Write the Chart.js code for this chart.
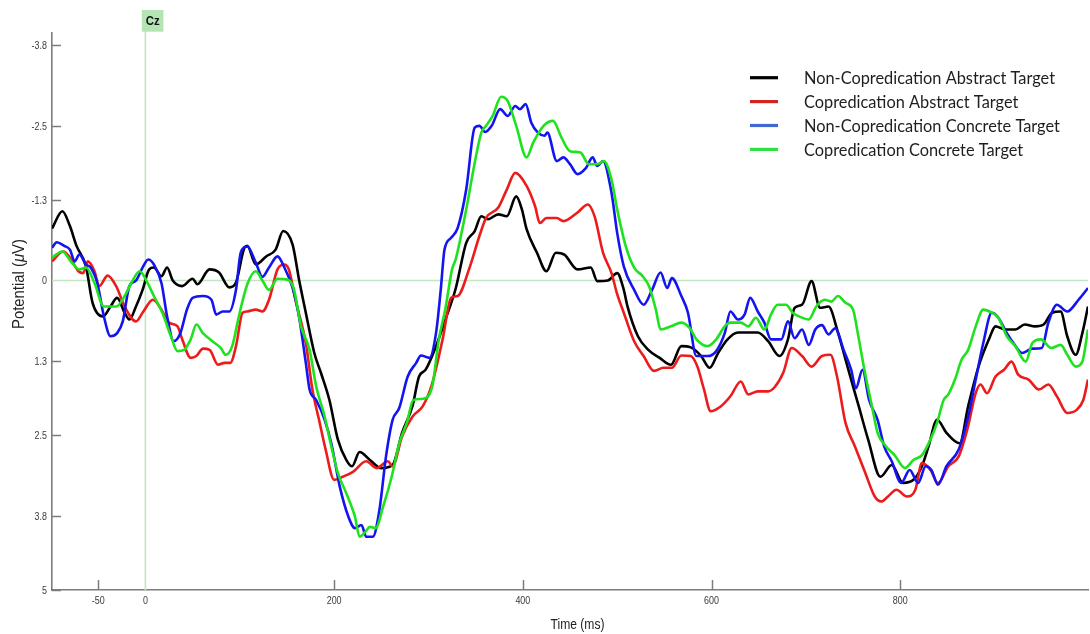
<!DOCTYPE html>
<html><head><meta charset="utf-8">
<script src="https://cdn.jsdelivr.net/npm/chart.js@4.4.1/dist/chart.umd.min.js"></script>
<style>html,body{margin:0;padding:0;background:#fff;}#wrap{position:relative;width:1090px;height:634px;}</style>
</head><body><div id="wrap"><canvas id="c" width="1090" height="634"></canvas></div>
<script>
// ---- data (time in ms, potential in µV) ----
const seriesLabels = ['Non-Copredication Abstract Target','Copredication Abstract Target','Non-Copredication Concrete Target','Copredication Concrete Target'];

const blackTimes = [-99,-88,-80,-73,-63,-56,-45,-37,-30,-22,-17,-10,-3,4,9,17,23,29,39,50,55,68,78,89,96,105,108,117,128,138,146,156,163,170,179,186,195,204,213,219,227,238,250,262,272,283,290,297,308,318,329,340,349,356,363,374,383,393,399,404,415,425,435,444,458,472,479,490,500,507,511,522,533,545,557,568,578,589,598,607,617,628,639,649,660,672,681,688,696,706,715,724,734,745,756,766,779,791,803,814,823,830,839,849,863,872,883,894,901,911,922,932,943,952,961,970,977,986,993,999];
const blackValues = [-0.84,-1.12,-0.88,-0.56,-0.23,0.36,0.58,0.42,0.28,0.52,0.63,0.42,0.15,-0.18,-0.21,-0.07,-0.21,0,0.09,-0.03,0.06,-0.18,-0.13,0.11,0.03,-0.53,-0.56,-0.26,-0.39,-0.5,-0.8,-0.58,0,0.52,1.17,1.49,1.93,2.57,2.9,3.0,2.77,2.9,3.03,2.98,2.46,2.03,1.55,1.44,1.06,0.63,0.12,-0.61,-0.8,-1.04,-0.99,-1.07,-1.04,-1.36,-1.15,-0.83,-0.45,-0.15,-0.45,-0.42,-0.18,-0.21,0.01,0,-0.12,0.15,0.42,0.9,1.12,1.25,1.36,1.06,1.08,1.22,1.41,1.17,0.95,0.84,0.84,0.84,0.98,1.22,0.95,0.44,0.39,0.01,0.44,0.42,0.84,1.44,2.03,2.57,3.17,2.98,3.27,3.22,3.0,2.68,2.25,2.46,2.63,2.03,1.39,0.95,0.74,0.79,0.79,0.71,0.74,0.71,0.52,0.5,0.9,1.2,0.85,0.42];

const redTimes = [-99,-87,-80,-71,-66,-61,-54,-49,-40,-31,-22,-10,-3,8,17,25,34,39,48,54,61,68,77,84,90,96,103,108,117,124,131,140,147,152,159,170,177,184,191,200,209,220,234,245,257,262,272,283,294,304,315,324,331,344,354,361,374,383,392,404,413,418,425,436,443,458,469,476,485,494,500,507,518,528,539,549,558,568,578,585,592,599,610,620,631,639,649,660,667,676,685,696,706,717,726,733,742,752,763,773,780,787,796,807,816,823,832,840,851,862,871,880,885,892,901,910,918,925,936,947,957,966,977,987,994,999];
const redValues = [-0.31,-0.47,-0.37,-0.15,-0.12,-0.31,-0.15,0.09,-0.08,0.09,0.42,0.66,0.52,0.31,0.47,0.68,0.74,0.95,1.25,1.22,1.1,1.12,1.36,1.33,1.33,1.06,0.52,0.5,0.47,0.5,0.31,-0.18,-0.26,-0.18,0.31,1.01,1.76,2.25,2.73,3.22,3.17,3.09,2.92,3.03,2.92,3.0,2.52,2.2,2.03,1.66,0.95,0.28,0.25,-0.23,-0.72,-1.01,-1.18,-1.47,-1.74,-1.53,-1.2,-0.93,-1.01,-1.01,-0.96,-1.1,-1.23,-1.04,-0.45,-0.12,0.22,0.52,0.98,1.22,1.46,1.41,1.41,1.21,1.22,1.39,1.76,2.11,2.03,1.87,1.63,1.84,1.79,1.79,1.72,1.49,1.09,1.22,1.39,1.22,1.2,1.55,2.3,2.68,3.11,3.49,3.57,3.49,3.38,3.49,3.38,2.95,3.06,3.27,3.0,2.84,2.41,1.82,1.68,1.82,1.55,1.44,1.31,1.52,1.6,1.76,1.68,1.87,2.14,2.09,1.93,1.6];

const blueTimes = [-99,-94,-86,-80,-75,-70,-63,-58,-51,-44,-37,-30,-24,-17,-10,-3,3,9,17,23,30,37,44,50,61,70,75,82,89,96,101,108,117,124,131,140,147,156,163,170,174,181,190,197,206,215,222,229,234,241,248,255,262,269,278,287,292,301,308,313,317,324,331,340,349,354,360,367,376,384,392,397,403,409,416,423,426,436,443,450,458,467,474,479,485,494,500,507,518,528,537,546,553,558,568,575,584,596,605,614,620,628,635,641,649,656,663,674,681,688,696,703,710,717,724,731,740,748,753,760,767,776,783,791,801,810,819,827,833,840,849,862,872,880,888,897,904,913,920,929,940,950,957,966,977,989,999];
const blueValues = [-0.53,-0.62,-0.56,-0.5,-0.31,-0.42,-0.26,-0.21,0.04,0.58,0.9,0.85,0.66,0.09,0,-0.21,-0.34,-0.26,0.04,0.58,0.98,0.85,0.47,0.28,0.25,0.31,0.55,0.5,0.5,0.15,-0.45,-0.55,-0.29,-0.06,-0.21,-0.39,-0.22,0.12,0.6,1.33,1.76,1.93,2.25,2.63,3.33,3.81,4.0,3.95,4.14,4.14,3.71,2.84,2.25,2.06,1.55,1.33,1.21,1.25,0.85,0.15,-0.5,-0.69,-0.85,-1.47,-2.47,-2.5,-2.4,-2.5,-2.77,-2.66,-2.82,-2.77,-2.85,-2.55,-2.39,-2.34,-2.39,-1.93,-1.99,-1.88,-1.72,-1.82,-1.99,-1.85,-1.93,-1.42,-0.77,-0.23,0.15,0.39,0.15,-0.13,0.12,-0.04,0.25,0.52,1.22,1.22,1.14,0.85,0.5,0.63,0.55,0.28,0.5,0.68,0.95,0.95,0.66,0.93,0.79,1.04,0.79,0.72,0.87,0.77,1.12,1.44,1.74,1.44,1.93,2.25,2.68,2.92,3.27,3.06,3.27,3.0,3.06,3.3,3.0,2.73,2.2,1.6,1.01,0.52,0.6,0.85,1.01,1.17,1.1,1.09,0.68,0.39,0.5,0.31,0.12];

const greenTimes = [-99,-88,-78,-70,-63,-54,-44,-31,-22,-15,-6,1,9,18,27,34,41,48,54,61,71,80,85,92,99,108,117,124,131,140,149,157,165,174,181,190,197,204,213,222,227,233,238,244,252,261,269,277,284,294,304,311,318,325,329,340,349,356,361,368,377,384,393,404,411,422,432,441,450,461,470,479,486,494,500,509,518,527,534,541,546,557,568,577,584,596,605,614,620,631,639,647,656,663,670,679,686,696,703,711,720,727,734,742,750,755,762,770,776,785,794,805,814,823,832,839,846,851,858,865,872,880,888,897,904,913,922,933,940,949,960,970,977,986,993,999];
const greenValues = [-0.37,-0.47,-0.29,-0.18,-0.21,0.04,0.42,0.42,0.25,0.04,-0.15,0,0.25,0.52,0.9,1.14,1.12,0.95,0.71,0.85,0.98,1.09,1.2,1.06,0.58,0.06,-0.15,0,0.15,-0.03,-0.02,0.12,0.74,1.12,1.71,2.2,2.68,3.11,3.44,3.81,4.14,4.06,3.98,4.0,3.65,3.17,2.63,2.3,1.93,1.91,1.71,0.95,0.45,-0.18,-0.35,-1.15,-1.9,-2.39,-2.5,-2.66,-2.97,-2.9,-2.5,-1.99,-2.23,-2.5,-2.58,-2.31,-2.09,-2.07,-1.88,-1.88,-1.93,-1.63,-1.15,-0.56,-0.21,-0.07,0.1,0.47,0.79,0.74,0.68,0.77,0.95,1.06,0.95,0.74,0.68,0.68,0.74,0.6,0.79,0.55,0.39,0.39,0.52,0.6,0.63,0.42,0.31,0.34,0.25,0.36,0.47,0.85,1.44,2.03,2.46,2.68,2.82,3.03,2.9,2.82,2.57,2.3,1.93,1.84,1.6,1.28,1.12,0.74,0.47,0.52,0.6,0.9,1.06,1.31,1.01,0.95,1.09,1.04,1.2,1.39,1.31,0.79];

const yTickValues = [-3.8,-2.5,-1.3,0,1.3,2.5,3.8,5];
const yTickLabels = ['-3.8','-2.5','-1.3','0','1.3','2.5','3.8','5'];
const xTickValues = [-50,0,200,400,600,800];
const xTickLabels = ['-50','0','200','400','600','800'];
const xTitle = 'Time (ms)';
const yTitleParts = ['Potential (', 'μ', 'V)'];
const electrodeLabel = 'Cz';

// ---- styles ----
const lineColors = ['#000000','#ec1c1c','#1414f0','#1fe21f'];
const legendColors = ['#000000','#d42323','#4069d0','#2de044'];
const axisColor = '#7c7c7c';
const zeroColor = '#bfe6bf';

function pts(t, v){ return t.map((x,i)=>({x:x, y:v[i]})); }
const allTimes = [blackTimes, redTimes, blueTimes, greenTimes];
const allValues = [blackValues, redValues, blueValues, greenValues];
const drawOrder = [3,2,1,0];

function txt(ctx, s, x, y, font, align, sx, color){
  ctx.save(); ctx.font = font; ctx.textAlign = align; ctx.textBaseline = 'alphabetic';
  ctx.fillStyle = color; ctx.translate(x, y); ctx.scale(sx, 1); ctx.fillText(s, 0, 0); ctx.restore();
}

const decor = {
  id: 'decor',
  beforeDatasetsDraw(chart){
    const {ctx, chartArea:a, scales:{x, y}} = chart;
    const y0 = y.getPixelForValue(0), x0 = x.getPixelForValue(0);
    ctx.save();
    ctx.strokeStyle = zeroColor; ctx.lineWidth = 1.6;
    ctx.beginPath(); ctx.moveTo(a.left, y0); ctx.lineTo(a.right, y0); ctx.stroke();
    ctx.beginPath(); ctx.moveTo(x0, 31); ctx.lineTo(x0, a.bottom); ctx.stroke();
    ctx.restore();
  },
  afterDraw(chart){
    const {ctx, chartArea:a, scales:{x, y}} = chart;
    ctx.save();
    // inward tick marks (the zero ticks are covered by the green reference lines)
    ctx.strokeStyle = axisColor; ctx.lineWidth = 1.5;
    yTickValues.forEach(v => { if (v === 0) return; const p = Math.round(y.getPixelForValue(v)) + 0.5; ctx.beginPath(); ctx.moveTo(a.left, p); ctx.lineTo(a.left + 9, p); ctx.stroke(); });
    xTickValues.forEach(v => { if (v === 0) return; const p = Math.round(x.getPixelForValue(v)) + 0.5; ctx.beginPath(); ctx.moveTo(p, a.bottom); ctx.lineTo(p, a.bottom - 10); ctx.stroke(); });
    // tick labels
    const tf = "10.5px 'Liberation Sans', Arial, sans-serif";
    yTickValues.forEach((v,i) => txt(ctx, yTickLabels[i], a.left - 5, y.getPixelForValue(v) + 3.8, tf, 'right', 0.85, '#3a3a3a'));
    xTickValues.forEach((v,i) => txt(ctx, xTickLabels[i], x.getPixelForValue(v), a.bottom + 14, tf, 'center', 0.85, '#3a3a3a'));
    // x title
    ctx.font = "15px 'Liberation Sans', Arial, sans-serif";
    const xw = ctx.measureText(xTitle).width;
    txt(ctx, xTitle, 577.5, 629, ctx.font, 'center', 54 / xw, '#222');
    // y title (rotated), italic mu
    const fR = "17px 'Liberation Sans', Arial, sans-serif", fI = "italic 17px 'Liberation Sans', Arial, sans-serif";
    ctx.font = fR; const w0 = ctx.measureText(yTitleParts[0]).width, w2 = ctx.measureText(yTitleParts[2]).width;
    ctx.font = fI; const w1 = ctx.measureText(yTitleParts[1]).width;
    const tot = w0 + w1 + w2, k = 90 / tot;
    ctx.save(); ctx.translate(24, 284); ctx.rotate(-Math.PI / 2); ctx.scale(k, 1);
    ctx.fillStyle = '#222'; ctx.textAlign = 'left'; ctx.textBaseline = 'alphabetic';
    let cx = -tot / 2;
    ctx.font = fR; ctx.fillText(yTitleParts[0], cx, 0); cx += w0;
    ctx.font = fI; ctx.fillText(yTitleParts[1], cx, 0); cx += w1;
    ctx.font = fR; ctx.fillText(yTitleParts[2], cx, 0);
    ctx.restore();
    // legend
    const lf = "18px Lato, 'Open Sans', sans-serif";
    ctx.font = lf; const lw = ctx.measureText(seriesLabels[0]).width, lk = 251 / lw;
    seriesLabels.forEach((s,i) => {
      const ly = 77.7 + i * 23.9;
      ctx.strokeStyle = legendColors[i]; ctx.lineWidth = 3.2;
      ctx.beginPath(); ctx.moveTo(750, ly); ctx.lineTo(778, ly); ctx.stroke();
      txt(ctx, s, 804, ly + 6.6, lf, 'left', lk, '#1e1e1e');
    });
    // electrode label box
    const bx = x.getPixelForValue(0);
    ctx.fillStyle = '#b4e4b4'; ctx.fillRect(bx - 3.6, 10, 21.6, 21.7);
    txt(ctx, electrodeLabel, bx + 7.2, 25, "bold 12px 'Liberation Sans', Arial, sans-serif", 'center', 0.95, '#111');
    ctx.restore();
  }
};

new Chart(document.getElementById('c'), {
  type: 'line',
  data: {
    datasets: seriesLabels.map((lab,i) => ({
      label: lab, data: pts(allTimes[i], allValues[i]),
      borderColor: lineColors[i], borderWidth: 2.6, pointRadius: 0,
      cubicInterpolationMode: 'monotone', fill: false, order: drawOrder[i]
    }))
  },
  options: {
    responsive: false, animation: false,
    layout: { padding: { top: 33, right: 2, left: 0, bottom: 0 } },
    plugins: { legend: { display: false }, tooltip: { enabled: false } },
    scales: {
      x: { type: 'linear', min: -99, max: 999,
           ticks: { display: false }, grid: { display: false, drawTicks: false },
           border: { display: true, color: axisColor, width: 1.6 },
           afterFit: s => { s.height = 44; } },
      y: { type: 'linear', reverse: true, min: -4, max: 5,
           ticks: { display: false }, grid: { display: false, drawTicks: false },
           border: { display: true, color: axisColor, width: 1.6 },
           afterFit: s => { s.width = 52; } }
    }
  },
  plugins: [decor]
});
</script>
</body></html>
